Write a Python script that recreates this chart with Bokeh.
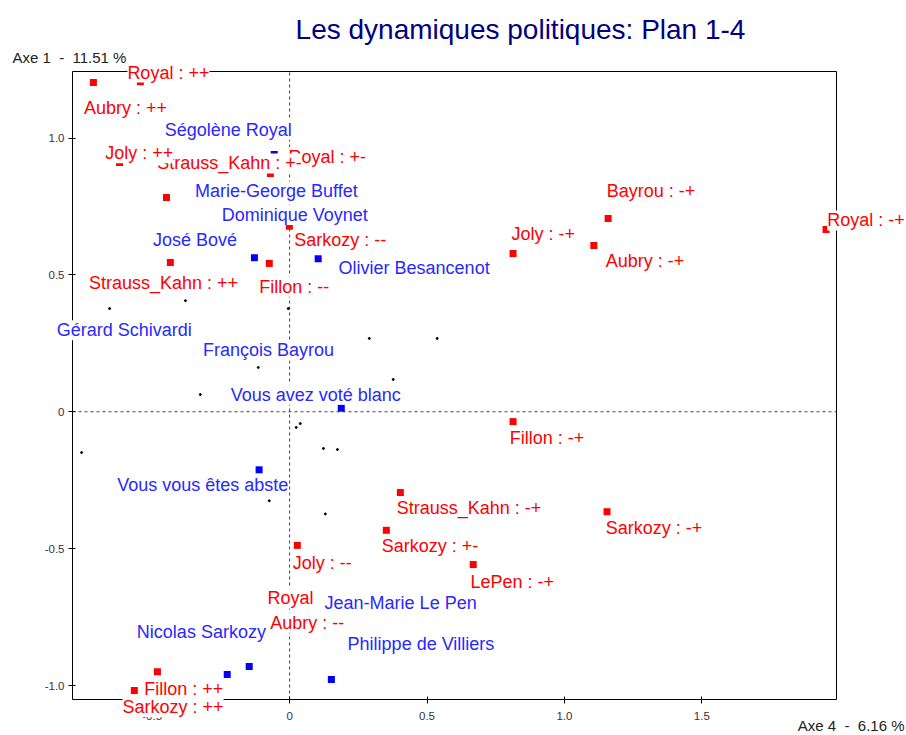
from bokeh.plotting import figure
from bokeh.models import ColumnDataSource, LabelSet, Label, FixedTicker, LinearAxis, Range1d
from bokeh.core.properties import value, field
from bokeh.embed import file_html
from bokeh.resources import INLINE

# ---------------- data ----------------
x_ticks = [-0.5, 0.0, 0.5, 1.0, 1.5]
x_tick_labels = ["-0.5", "0", "0.5", "1.0", "1.5"]
y_ticks = [-1.0, -0.5, 0.0, 0.5, 1.0]
y_tick_labels = ["-1.0", "-0.5", "0", "0.5", "1.0"]

title_text = "Les dynamiques politiques: Plan 1-4"
y_axis_title = "Axe 1\u00a0\u00a0-\u00a0\u00a011.51 %"
x_axis_title = "Axe 4\u00a0\u00a0-\u00a0\u00a06.16 %"

# modalities (red squares)
mod_names = ["Royal : ++", "Aubry : ++", "Royal : +-", "Strauss_Kahn : +-", "Joly : ++",
             "Sarkozy : --", "Strauss_Kahn : ++", "Fillon : --", "Joly : -+", "Bayrou : -+",
             "Aubry : -+", "Royal : -+", "Fillon : -+", "Strauss_Kahn : -+", "Sarkozy : +-",
             "Sarkozy : -+", "LePen : -+", "Joly : --", "Royal", "Aubry : --",
             "Fillon : ++", "Sarkozy : ++"]
mod_x = [-0.543, -0.714, -0.070, -0.448, -0.619,
         -0.001, -0.434, -0.074, 0.813, 1.159,
         1.107, 1.952, 0.813, 0.403, 0.352,
         1.155, 0.668, 0.028, 0.039, 0.093,
         -0.481, -0.565]
mod_y = [1.206, 1.203, 0.870, 0.783, 0.911,
         0.678, 0.545, 0.542, 0.578, 0.706,
         0.607, 0.666, -0.036, -0.295, -0.433,
         -0.365, -0.558, -0.488, -0.689, -0.780,
         -0.950, -1.018]
mod_label_x = [-0.441, -0.597, 0.137, -0.219, -0.547,
               0.184, -0.459, 0.017, 0.923, 1.315,
               1.293, 2.097, 0.937, 0.653, 0.511,
               1.326, 0.810, 0.119, 0.003, 0.064,
               -0.385, -0.424]
mod_label_y = [1.239, 1.109, 0.930, 0.907, 0.944,
               0.626, 0.472, 0.457, 0.651, 0.806,
               0.549, 0.699, -0.094, -0.353, -0.492,
               -0.426, -0.620, -0.551, -0.682, -0.771,
               -1.011, -1.079]

# candidates (blue squares)
cand_names = ["Ségolène Royal", "Marie-George Buffet", "Dominique Voynet", "José Bové",
              "Olivier Besancenot", "Gérard Schivardi", "François Bayrou",
              "Vous avez voté blanc", "Vous vous êtes abste", "Nicolas Sarkozy",
              "Jean-Marie Le Pen", "Philippe de Villiers"]
cand_x = [-0.056, 0.148, 0.184, -0.128, 0.104, -0.507, -0.143, 0.188, -0.111, -0.227, -0.147, 0.152]
cand_y = [0.940, 0.805, 0.720, 0.563, 0.559, 0.297, 0.223, 0.013, -0.212, -0.960, -0.930, -0.978]
cand_label_x = [-0.223, -0.048, 0.019, -0.344, 0.453, -0.602, -0.077, 0.095, -0.316, -0.321, 0.404, 0.478]
cand_label_y = [1.030, 0.805, 0.719, 0.629, 0.524, 0.298, 0.224, 0.063, -0.269, -0.803, -0.699, -0.850]

# individuals (tiny dots)
ind_x = [-0.655, -0.379, -0.005, 0.290, 0.537, -0.114, 0.377, -0.325, -0.757,
         0.039, 0.024, 0.123, 0.174, -0.074, 0.130]
ind_y = [0.377, 0.406, 0.377, 0.268, 0.268, 0.162, 0.118, 0.063, -0.149,
         -0.043, -0.057, -0.134, -0.138, -0.325, -0.373]

# ---------------- layout / styles ----------------
RED = "#ff0000"
BLUE = "#2828ff"
FONT = "Liberation Sans"
W, H = 906, 735
# plotting box: data extent and its place on the canvas (px)
BX0, BX1 = -0.790, 1.990
BY0, BY1 = -1.051, 1.243
BOX_L, BOX_R, BOX_T, BOX_B = 72, 836, 71, 699
SX = (BOX_R - BOX_L) / (BX1 - BX0)
SY = (BOX_B - BOX_T) / (BY1 - BY0)
XR0, XR1 = BX0 - BOX_L / SX, BX1 + (W - BOX_R) / SX
YR0, YR1 = BY0 - (H - BOX_B) / SY, BY1 + BOX_T / SY


def dx(px):
    return XR0 + px / SX


def dy(py):
    return YR1 - py / SY


p = figure(width=W, height=H, output_backend="svg", toolbar_location=None,
           x_range=Range1d(XR0, XR1), y_range=Range1d(YR0, YR1), title=None, min_border=0)
p.outline_line_color = None
p.grid.visible = False
p.background_fill_color = "white"
p.border_fill_color = "white"

xa = p.xaxis[0]
ya = p.yaxis[0]
xa.fixed_location = BY0
xa.bounds = (BX0, BX1)
ya.fixed_location = BX0
ya.bounds = (BY0, BY1)
for ax, ticks, labs in ((xa, x_ticks, x_tick_labels), (ya, y_ticks, y_tick_labels)):
    ax.ticker = FixedTicker(ticks=ticks)
    ax.major_label_overrides = {t: l for t, l in zip(ticks, labs)}
    ax.axis_line_color = "black"
    ax.major_tick_line_color = "black"
    ax.minor_tick_line_color = None
    ax.major_tick_in = 3
    ax.major_tick_out = 4
    ax.major_label_text_font = FONT
    ax.major_label_text_font_size = "11.5px"
    ax.major_label_text_color = "#333333"
xa.major_label_standoff = 8
ya.major_label_standoff = 4

top = LinearAxis(ticker=FixedTicker(ticks=[]), major_tick_line_color=None,
                 minor_tick_line_color=None, major_label_text_font_size="0px",
                 axis_line_color="black", fixed_location=BY1, bounds=(BX0, BX1))
right = LinearAxis(ticker=FixedTicker(ticks=[]), major_tick_line_color=None,
                   minor_tick_line_color=None, major_label_text_font_size="0px",
                   axis_line_color="black", fixed_location=BX1, bounds=(BY0, BY1))
p.add_layout(top, "above")
p.add_layout(right, "right")

# dashed origin lines across the box
p.segment(x0=[0, BX0], y0=[BY0, 0], x1=[0, BX1], y1=[BY1, 0],
          line_color="#404040", line_width=1, line_dash="3 3")

p.scatter(ind_x, ind_y, marker="circle", size=2, color="black")
p.scatter(cand_x, cand_y, marker="square", size=7, color="#0000ff", line_color=None)
p.scatter(mod_x, mod_y, marker="square", size=7, color=RED, line_color=None)

p.add_layout(Label(x=dx(520), y=dy(29), text=title_text, text_font=FONT, text_font_size="28px",
                   text_color="#000080", text_align="center", text_baseline="middle"))
p.add_layout(Label(x=dx(12), y=dy(57), text=y_axis_title, text_font=FONT, text_font_size="15px",
                   text_color="#222222", text_align="left", text_baseline="middle"))
p.add_layout(Label(x=dx(904), y=dy(725), text=x_axis_title, text_font=FONT, text_font_size="15px",
                   text_color="#222222", text_align="right", text_baseline="middle"))

lab_src = ColumnDataSource(dict(
    x=mod_label_x + cand_label_x,
    y=mod_label_y + cand_label_y,
    text=mod_names + cand_names,
    color=[RED] * len(mod_names) + [BLUE] * len(cand_names),
))
p.add_layout(LabelSet(x="x", y="y", text="text", source=lab_src, text_color=field("color"),
                      text_font=value(FONT), text_font_size="18px", text_align="center",
                      text_baseline="middle", background_fill_color="white"))

open("out.html", "w").write(file_html(p, INLINE))
